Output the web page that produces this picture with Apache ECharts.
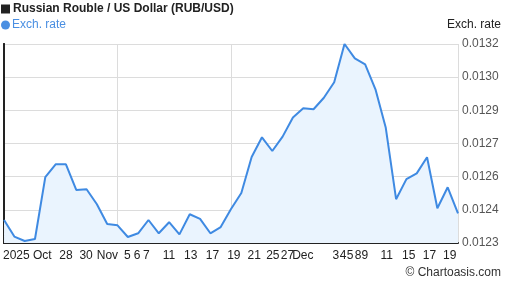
<!DOCTYPE html>
<html>
<head>
<meta charset="utf-8">
<script src="https://cdn.jsdelivr.net/npm/echarts@6/dist/echarts.min.js"></script>
<style>
html,body{margin:0;padding:0;background:#fff;}
#chart{width:507px;height:288px;}
</style>
</head>
<body>
<div id="chart"></div>
<script>
// Trading days 20 Oct 2025 – 19 Dec 2025
const dates = [
  '2025-10-20','2025-10-21','2025-10-22','2025-10-23','2025-10-24',
  '2025-10-27','2025-10-28','2025-10-29','2025-10-30','2025-10-31',
  '2025-11-03','2025-11-04','2025-11-05','2025-11-06','2025-11-07',
  '2025-11-10','2025-11-11','2025-11-12','2025-11-13','2025-11-14',
  '2025-11-17','2025-11-18','2025-11-19','2025-11-20','2025-11-21',
  '2025-11-24','2025-11-25','2025-11-26','2025-11-27','2025-11-28',
  '2025-12-01','2025-12-02','2025-12-03','2025-12-04','2025-12-05',
  '2025-12-08','2025-12-09','2025-12-10','2025-12-11','2025-12-12',
  '2025-12-15','2025-12-16','2025-12-17','2025-12-18','2025-12-19'
];
const rates = [
  0.012404,0.012329,0.012309,0.012318,0.012598,
  0.012656,0.012656,0.012540,0.012543,0.012475,
  0.012386,0.012380,0.012327,0.012344,0.012404,
  0.012344,0.012394,0.012339,0.012430,0.012409,
  0.012344,0.012372,0.012454,0.012526,0.012689,
  0.012778,0.012716,0.012781,0.012868,0.012909,
  0.012905,0.012957,0.013027,0.013200,0.013135,
  0.013108,0.012995,0.012821,0.012498,0.012589,
  0.012615,0.012688,0.012457,0.012552,0.012434
];
// x tick labels and where they sit (in trading-day index units)
const xTickLabels = ['2025 Oct','28','30','Nov','5','6','7','11','13','17','19','21','25','27','Dec','3','4','5','8','9','11','15','17','19'];
const xTickAt = [2.26,6.0,7.95,10.02,11.96,12.89,13.79,15.98,18.1,20.2,22.27,24.24,26.05,27.47,28.96,32.16,32.86,33.54,34.31,34.98,37.1,39.22,41.24,43.2];
// y tick labels
const yTickLabels = ['0.0123','0.0124','0.0126','0.0127','0.0129','0.0130','0.0132'];
const yMin = 0.0123, yMax = 0.0132, yStep = 0.00015;

const FONT = '"Liberation Sans", Arial, sans-serif';
const chart = echarts.init(document.getElementById('chart'), null, {renderer:'canvas'});
chart.setOption({
  animation: false,
  backgroundColor: '#fff',
  textStyle: {fontFamily: FONT},
  title: {
    text: '{sq|}{t|Russian Rouble / US Dollar (RUB/USD)}',
    left: 1, top: 3, padding: 0,
    textStyle: {
      rich: {
        sq: {width: 9, height: 9, backgroundColor: '#222'},
        t: {fontFamily: FONT, fontSize: 12, fontWeight: 'bold', color: '#222', padding: [0,0,0,3]}
      }
    }
  },
  legend: {
    left: 1, top: 19, padding: 0,
    icon: 'circle', itemWidth: 9, itemHeight: 9, itemGap: 2,
    data: ['Exch. rate'],
    textStyle: {fontFamily: FONT, fontSize: 12, color: '#4a8fe2', padding: [0,0,0,-3]}
  },
  grid: {left: 1, right: 49, top: 44, bottom: 45, containLabel: false},
  xAxis: [{
    type: 'category',
    data: dates,
    boundaryGap: false,
    axisLine: {show: true, lineStyle: {color: '#222', width: 2}},
    axisTick: {show: false},
    axisLabel: {show: false},
    splitLine: {show: true, interval: function (i) { return i % 11 === 0; }, lineStyle: {color: '#dcdcdc', width: 1}}
  }, {
    type: 'value',
    min: 0, max: dates.length - 1,
    position: 'bottom',
    axisLine: {show: false},
    axisTick: {show: false},
    splitLine: {show: false},
    axisLabel: {
      show: true,
      customValues: xTickAt,
      margin: 7,
      fontFamily: FONT, fontSize: 12, color: '#222',
      formatter: function (v) {
        for (let i = 0; i < xTickAt.length; i++) if (Math.abs(xTickAt[i] - v) < 1e-6) return xTickLabels[i];
        return '';
      }
    }
  }],
  yAxis: [{
    type: 'value',
    position: 'right',
    min: yMin, max: yMax, interval: yStep,
    axisLine: {show: true, lineStyle: {color: '#222', width: 2}},
    axisTick: {show: false},
    splitLine: {show: true, lineStyle: {color: '#dcdcdc', width: 1}},
    axisLabel: {
      margin: 4,
      fontFamily: FONT, fontSize: 12, color: '#555',
      formatter: function (v) { return yTickLabels[Math.round((v - yMin) / yStep)] || ''; }
    }
  }, {
    type: 'value',
    position: 'left',
    min: yMin, max: yMax,
    axisLine: {show: true, onZero: false, lineStyle: {color: '#222', width: 2}},
    axisTick: {show: false},
    axisLabel: {show: false},
    splitLine: {show: false}
  }],
  series: [{
    name: 'Exch. rate',
    type: 'line',
    xAxisIndex: 0, yAxisIndex: 0,
    data: rates,
    symbol: 'none',
    smooth: false,
    color: '#4a8fe2',
    lineStyle: {color: '#3f8ae2', width: 2},
    areaStyle: {color: '#eaf4fe', opacity: 1}
  }],
  graphic: [{
    type: 'text', right: 6, top: 19,
    style: {text: 'Exch. rate', font: '12px ' + FONT, fill: '#222'}
  }, {
    type: 'text', right: 6, top: 267,
    style: {text: '© Chartoasis.com', font: '12px ' + FONT, fill: '#333'}
  }]
});
</script>
</body>
</html>
